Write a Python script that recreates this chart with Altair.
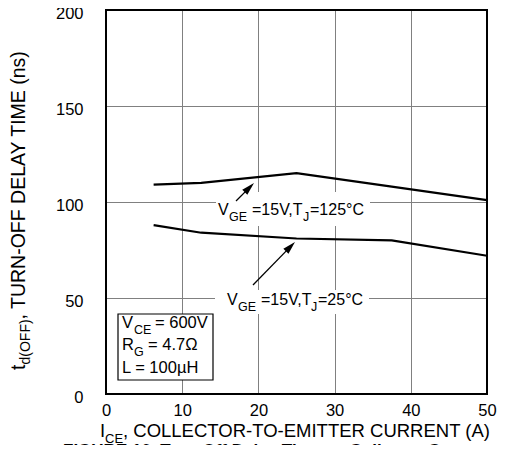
import math
import altair as alt
import pandas as pd

FONT = "Liberation Sans"

# ---- data ----
current_a = [6.25, 12.5, 25, 37.5, 50]
delay_125c = [109, 110, 115, 108, 101]
delay_25c = [88, 84, 81, 80, 72]
series_names = ["VGE=15V,TJ=125C", "VGE=15V,TJ=25C"]
x_ticks = [0, 10, 20, 30, 40, 50]
y_ticks = [0, 50, 100, 150, 200]

rows = []
for name, vals in zip(series_names, (delay_125c, delay_25c)):
    for x, y in zip(current_a, vals):
        rows.append({"I": x, "t": y, "series": name})
df = pd.DataFrame(rows)

# plot origin on the page, plot size
OX, OY = 106, 10
W, H = 381, 384


def one():
    return alt.Data(values=[{}])


def txt(s, px, py, size, weight="normal", angle=0):
    return alt.Chart(one()).mark_text(
        text=s, font=FONT, fontSize=size, fontWeight=weight, angle=angle,
        align="left", baseline="alphabetic", color="black"
    ).encode(x=alt.value(px - OX), y=alt.value(py - OY))


def box(x1, y1, x2, y2, stroke=None, sw=0):
    kw = dict(fill="white")
    if stroke:
        kw.update(stroke=stroke, strokeWidth=sw)
    return alt.Chart(one()).mark_rect(**kw).encode(
        x=alt.value(x1 - OX), x2=alt.value(x2 - OX),
        y=alt.value(y1 - OY), y2=alt.value(y2 - OY))


def arrow(tail, tip, head=13):
    dx, dy = tip[0] - tail[0], tip[1] - tail[1]
    L = math.hypot(dx, dy)
    ux, uy = dx / L, dy / L
    cx, cy = tip[0] - ux * head / 2, tip[1] - uy * head / 2
    ang = math.degrees(math.atan2(dx, -dy)) % 360
    shaft = alt.Chart(one()).mark_rule(color="black", strokeWidth=1.3).encode(
        x=alt.value(tail[0] - OX), y=alt.value(tail[1] - OY),
        x2=alt.value(cx - OX), y2=alt.value(cy - OY))
    hd = alt.Chart(one()).mark_point(
        shape="M0,-1L0.55,1L-0.55,1Z", filled=True, color="black", opacity=1,
        size=head * head, angle=ang, strokeWidth=0
    ).encode(x=alt.value(cx - OX), y=alt.value(cy - OY))
    return [shaft, hd]


axis_common = dict(
    title=None, grid=True, gridColor="#808080", gridWidth=1, ticks=False,
    domain=False, labelFont=FONT, labelFontSize=16.5, labelColor="black",
)

lines = alt.Chart(df).mark_line(color="black", strokeWidth=2.2).encode(
    x=alt.X("I:Q", scale=alt.Scale(domain=[0, 50], nice=False),
            axis=alt.Axis(values=x_ticks, labelPadding=8, labelFlush=False,
                          **axis_common)),
    y=alt.Y("t:Q", scale=alt.Scale(domain=[0, 200], nice=False),
            axis=alt.Axis(values=y_ticks, labelPadding=23, labelOffset=3,
                          **axis_common)),
    detail="series:N",
)

border = alt.Chart(one()).mark_rect(
    fillOpacity=0, stroke="black", strokeWidth=2
).encode(x=alt.value(0), x2=alt.value(W), y=alt.value(0), y2=alt.value(H))

layers = [
    box(216, 192, 370, 226),
    box(215, 290, 369, 314),
    box(118, 314, 213, 380, stroke="black", sw=1.2),
    lines,
]

layers += arrow((236, 201), (254, 183))
layers += arrow((253, 285), (295, 242))

# annotation 1
layers += [
    txt("V", 218, 215, 16), txt("GE", 229, 221, 12.5),
    txt("=15V,T", 252, 215, 16), txt("J", 303, 221, 12.5),
    txt("=125°C", 310, 215, 16),
]
# annotation 2
layers += [
    txt("V", 227, 305, 16), txt("GE", 238, 311, 12.5),
    txt("=15V,T", 261, 305, 16), txt("J", 311, 311, 12.5),
    txt("=25°C", 318, 305, 16),
]
# conditions box
layers += [
    txt("V", 122, 328, 16.5), txt("CE", 134, 334, 12.5), txt("= 600V", 155, 328, 16.5),
    txt("R", 122, 350, 16.5), txt("G", 134, 356, 12.5), txt("= 4.7Ω", 148, 350, 16.5),
    txt("L = 100µH", 122, 373, 16.5),
]
# x title
layers += [
    txt("I", 100, 437, 18.5), txt("CE", 105, 442.5, 13),
    txt(", COLLECTOR-TO-EMITTER CURRENT (A)", 123, 437, 18.5),
]
# y title (rotated, reading upward)
layers += [
    txt("t", 25, 370, 19.5, angle=270),
    txt("d(OFF)", 30, 364.5, 14, angle=270),
    txt(", TURN-OFF DELAY TIME (ns)", 25, 319.5, 19.5, angle=270),
]
# figure caption, cut by the bottom edge as in the reference
layers += [txt("FIGURE 10. Turn-Off Delay Time vs Collector Current", 63, 455.5, 17, weight="bold")]

layers.append(border)

chart = alt.layer(*layers).properties(
    width=W, height=H,
    padding={"left": OX - 8, "top": OY - 8, "right": 10, "bottom": 437 - (OY - 8) - H},
    autosize=alt.AutoSizeParams(type="none"),
).configure_view(strokeWidth=0)

chart.save("out.html", embed_options={"renderer": "svg", "actions": False})
